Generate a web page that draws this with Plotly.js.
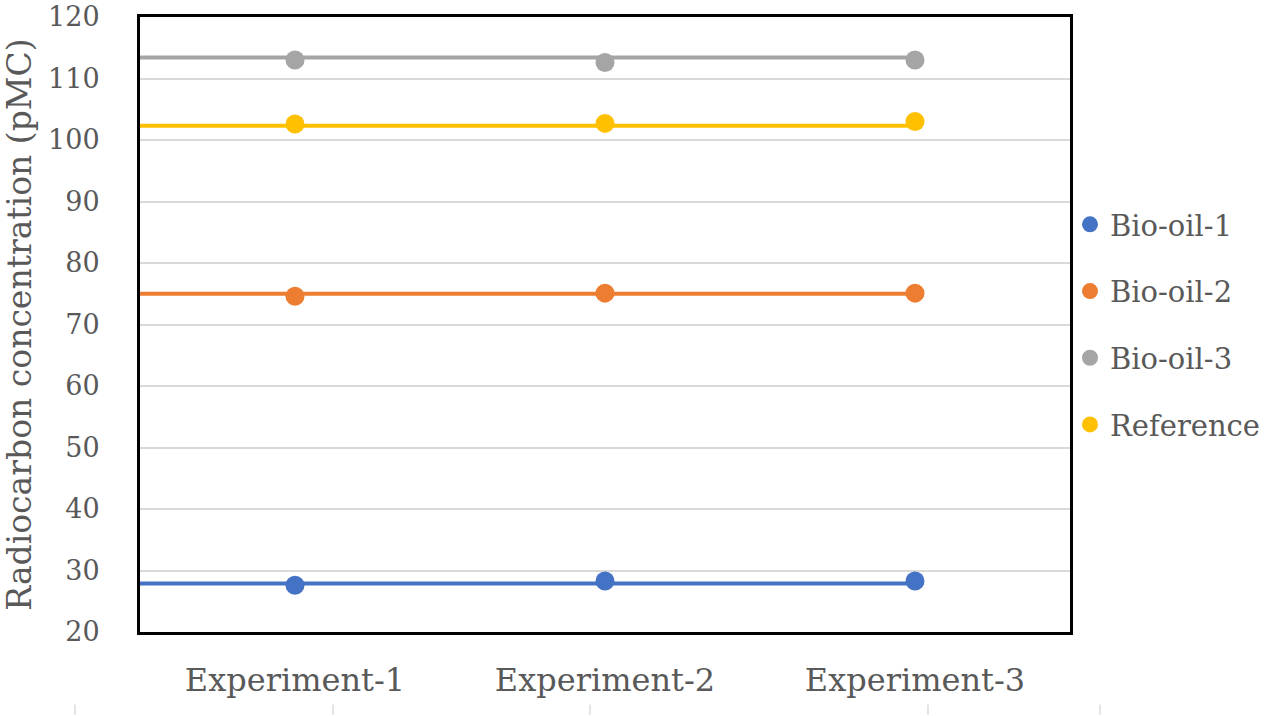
<!DOCTYPE html>
<html>
<head>
<meta charset="utf-8">
<script src="https://cdn.plot.ly/plotly-3.0.1.min.js"></script>
<style>html,body{margin:0;padding:0;background:#fff;}#chart{width:1280px;height:716px;}</style>
</head>
<body>
<div id="chart"></div>
<script>
// ---- data ----
const categories = ["Experiment-1", "Experiment-2", "Experiment-3"];
const seriesNames = ["Bio-oil-1", "Bio-oil-2", "Bio-oil-3", "Reference"];
const bioOil1 = [27.6, 28.3, 28.3];
const bioOil2 = [74.6, 75.1, 75.1];
const bioOil3 = [113.0, 112.6, 113.0];
const reference = [102.6, 102.7, 103.0];
// levels of the drawn (trend) lines
const trendLevels = [27.9, 75.0, 113.4, 102.3];
const yTickVals = [20, 30, 40, 50, 60, 70, 80, 90, 100, 110, 120];

// ---- styles ----
const colors = ["#4472C4", "#ED7D31", "#A5A5A5", "#FFC000"];
const serif = "DejaVu Serif";
const allSeries = [bioOil1, bioOil2, bioOil3, reference];
const xIdx = categories.map((c, i) => i);
const xStart = -0.5;
const xEnd = categories.length - 1;

const traces = [];
allSeries.forEach((vals, k) => {
  traces.push({
    x: [xStart, xEnd], y: [trendLevels[k], trendLevels[k]],
    mode: "lines", line: {color: colors[k], width: 4},
    showlegend: false, hoverinfo: "skip", legendgroup: "g" + k
  });
});
allSeries.forEach((vals, k) => {
  traces.push({
    x: xIdx, y: vals, name: seriesNames[k], mode: "markers",
    marker: {color: colors[k], size: 19},
    legendgroup: "g" + k
  });
});

const tickMarks = [-0.0699, 0.2075, 0.4839, 0.8473, 1.0323].map(px => ({
  type: "line", xref: "paper", yref: "paper", x0: px, x1: px, y0: -0.118, y1: -0.135,
  line: {color: "#c8c8c8", width: 1}
}));

const layout = {
  width: 1280, height: 716,
  margin: {l: 140, r: 210, t: 17, b: 84, autoexpand: false},
  paper_bgcolor: "#fff", plot_bgcolor: "#fff",
  font: {family: serif, color: "#595959"},
  xaxis: {
    range: [-0.5, 2.5], tickvals: xIdx, ticktext: categories,
    showgrid: false, zeroline: false, ticks: "",
    showline: true, mirror: true, linecolor: "#000", linewidth: 3,
    tickfont: {family: serif, size: 32, color: "#595959"},
    ticklabelstandoff: 18
  },
  yaxis: {
    range: [20, 120], tickvals: yTickVals, ticks: "",
    ticklabeloverflow: "allow",
    showgrid: true, gridcolor: "#d9d9d9", gridwidth: 2, zeroline: false,
    showline: true, mirror: true, linecolor: "#000", linewidth: 3,
    tickfont: {family: serif, size: 27, color: "#595959"},
    ticklabelstandoff: 32,
    title: {text: "Radiocarbon concentration (pMC)", font: {family: serif, size: 33, color: "#595959"}, standoff: 12}
  },
  legend: {
    x: 1.0, xanchor: "left", y: 0.5, yanchor: "middle",
    font: {family: serif, size: 29, color: "#595959"},
    tracegroupgap: 26, itemwidth: 30, bgcolor: "rgba(0,0,0,0)"
  },
  shapes: tickMarks,
  showlegend: true
};

Plotly.newPlot("chart", traces, layout, {displayModeBar: false, staticPlot: true});
</script>
</body>
</html>
